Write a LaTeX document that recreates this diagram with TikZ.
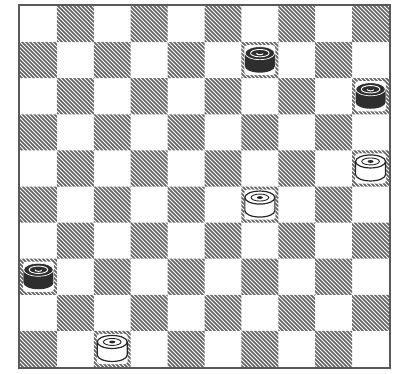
\documentclass[tikz,border=0pt]{standalone}
\begin{document}
\begin{tikzpicture}[x=1pt,y=-1pt,
  frame/.style={draw=black!65, line width=1.6pt},
  hatch/.style={draw=black!62, line width=1.45pt},
  clearing/.style={fill=white, rounded corners=3pt},
  darktop/.style={fill=black!82, draw=white, line width=0.7pt},
  darkbody/.style={fill=black!82},
  ring/.style={draw=white, line width=0.9pt},
  lightpiece/.style={fill=white, draw=black!85, line width=1.2pt},
  lightring/.style={draw=black!85, line width=0.9pt}]
\useasboundingbox (0,0) rectangle (395,373);
\def\bx{20}\def\by{6}\def\sw{36.9}\def\sh{36.1}
% hatched dark squares
\begin{scope}
  \clip \foreach \r/\s in {0/1,1/0,2/1,3/0,4/1,5/0,6/1,7/0,8/1,9/0} {
    \foreach \k in {0,...,4} {
      ({\bx+(\s+2*\k)*\sw},{\by+\r*\sh}) rectangle ++(\sw,\sh)
    }
  };
  \draw[hatch] \foreach \i in {0,...,200} { ({-380+\i*4.0},0) -- ++(380,380) };
\end{scope}
% board frame
\draw[frame] (19,5) rectangle (390,368);
% clearings around pieces (row/col)
\foreach \r/\c in {1/6,2/9,4/9,5/6,7/0,9/2} {
  \fill[clearing] ({\bx+\c*\sw+3},{\by+\r*\sh+3}) rectangle ++({\sw-6},{\sh-6});
}
% black pieces
\foreach \r/\c in {1/6,2/9,7/0} {
  \pgfmathsetmacro\cx{\bx+(\c+0.5)*\sw}
  \pgfmathsetmacro\cy{\by+(\r+0.5)*\sh-1}
  \fill[darkbody] ({\cx-15},{\cy-6}) -- ({\cx-15},{\cy+7})
     arc[start angle=180,end angle=0,x radius=15,y radius=6.5] -- ({\cx+15},{\cy-6}) -- cycle;
  \path[darktop] (\cx,{\cy-6}) ellipse[x radius=14.8,y radius=6.5];
  \draw[ring] (\cx,{\cy-6}) ellipse[x radius=9.3,y radius=3.7];
  \draw[ring] ({\cx-3.5},{\cy-6}) arc[start angle=180,end angle=20,x radius=3.5,y radius=1.6];
}
% white pieces
\foreach \r/\c in {4/9,5/6,9/2} {
  \pgfmathsetmacro\cx{\bx+(\c+0.5)*\sw}
  \pgfmathsetmacro\cy{\by+(\r+0.5)*\sh-1}
  \draw[lightpiece] ({\cx-15},{\cy-6}) -- ({\cx-15},{\cy+7})
     arc[start angle=180,end angle=0,x radius=15,y radius=6.5] -- ({\cx+15},{\cy-6}) -- cycle;
  \draw[lightpiece] (\cx,{\cy-6}) ellipse[x radius=15,y radius=6.5];
  \draw[lightring] (\cx,{\cy-6}) ellipse[x radius=8.8,y radius=3.5];
  \fill[black!85] (\cx,{\cy-6}) ellipse[x radius=3,y radius=1.4];
}
\end{tikzpicture}
\end{document}
